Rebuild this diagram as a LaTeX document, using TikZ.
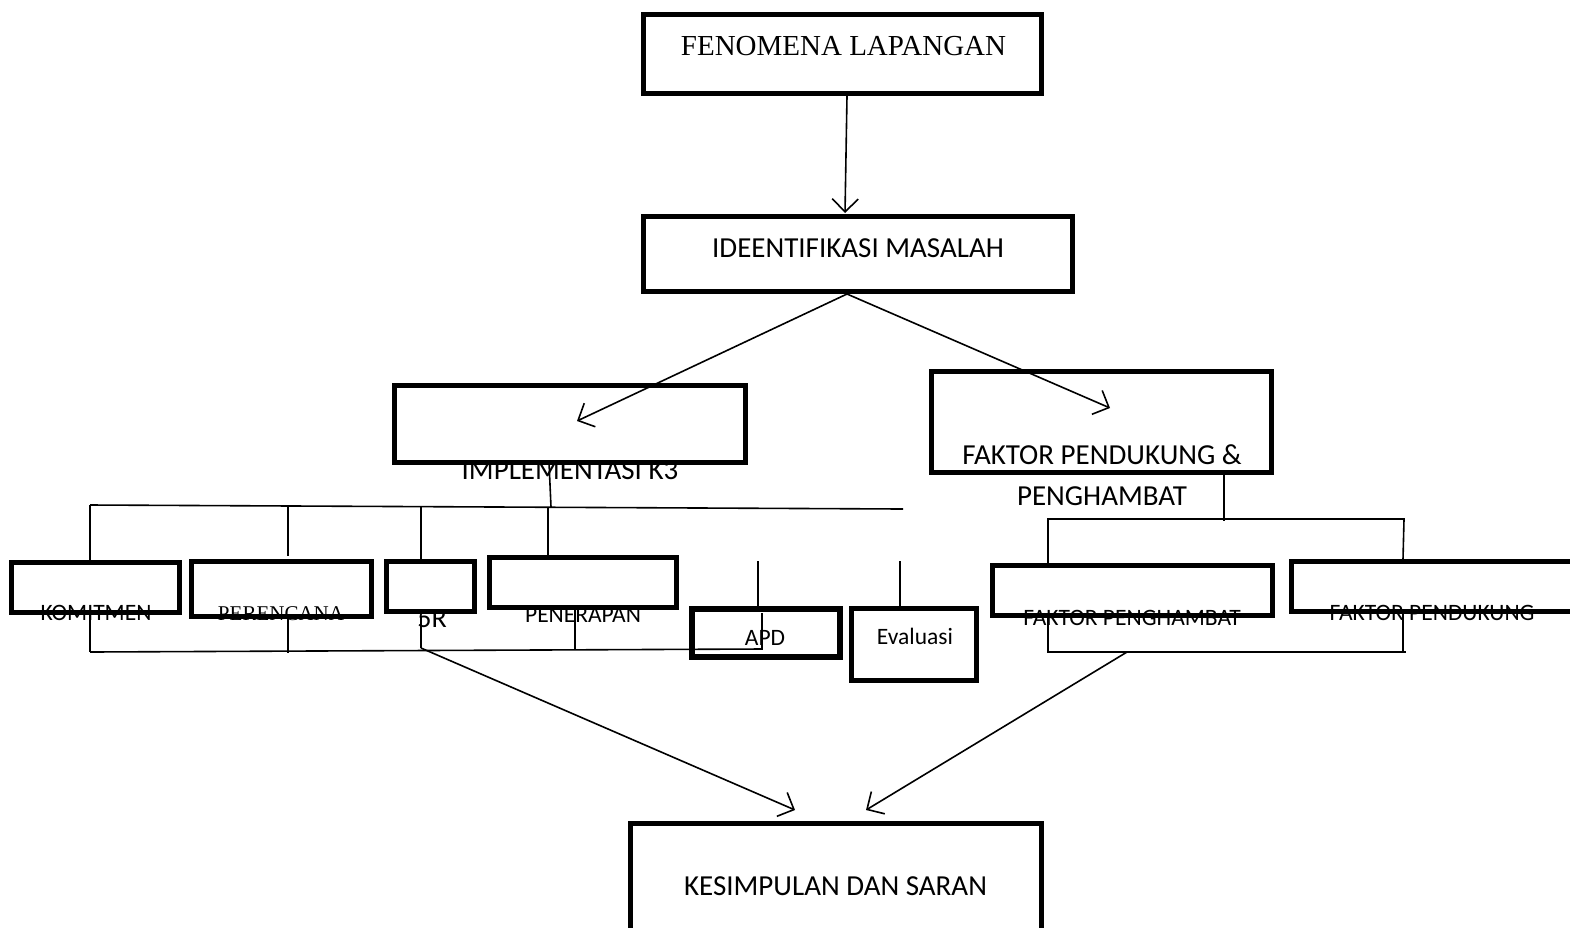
\documentclass[tikz,border=0pt]{standalone}
\usepackage{fontspec}
\setmainfont{Carlito}
\newfontfamily\serifface{Liberation Serif}
\usetikzlibrary{arrows.meta}
\begin{document}
\begin{tikzpicture}[x=1pt,y=-1pt,
  box/.style={draw, line width=5pt, inner sep=0pt, outer sep=0pt},
  wire/.style={line width=1.6pt},
  arr/.style={line width=1.6pt, -{Straight Barb[length=13pt,width=26pt,line width=1.6pt]}},
  big/.style={anchor=base, inner sep=0pt, font=\fontsize{29}{34}\selectfont},
  small/.style={anchor=base, inner sep=0pt, font=\fontsize{23.5}{28}\selectfont}]
\fill[white] (0,0) rectangle (1570,927);
\useasboundingbox (0,0) rectangle (1570,927);

% boxes
\node[box, minimum width=398pt, minimum height=79pt] (fen) at (842.5,54) {};
\node[box, minimum width=429pt, minimum height=75pt] (ide) at (858,254) {};
\node[box, minimum width=351pt, minimum height=77pt] (imp) at (570,424) {};
\node[box, minimum width=340pt, minimum height=101pt] (fpp) at (1101.5,422) {};
\node[box, minimum width=168pt, minimum height=50pt] (kom) at (95.5,587.5) {};
\node[box, minimum width=180pt, minimum height=55pt] (per) at (281.5,589) {};
\node[box, minimum width=88pt, minimum height=50pt] (r5) at (430.5,586.5) {};
\node[box, minimum width=187pt, minimum height=50pt] (pen) at (583,582.5) {};
\node[box, minimum width=148pt, minimum height=48pt, line width=6pt] (apd) at (765.5,632.5) {};
\node[box, minimum width=125pt, minimum height=72pt] (eva) at (914,644.5) {};
\node[box, minimum width=280pt, minimum height=50pt] (fph) at (1132.5,590.5) {};
\node[box, minimum width=281pt, minimum height=50pt] (fpd) at (1432,586.5) {};
\node[box, minimum width=411pt, minimum height=114pt] (kes) at (836,880.5) {};

% labels
\node[big, font=\serifface\fontsize{29}{34}\selectfont] (tfen) at (843.5,55) {FENOMENA LAPANGAN};
\node[big] (tide) at (858,257) {IDEENTIFIKASI MASALAH};
\node[big] (timp) at (570,479) {IMPLEMENTASI K3};
\node[big] (tfpp1) at (1102,464) {FAKTOR PENDUKUNG \&};
\node[big] (tfpp2) at (1102,505) {PENGHAMBAT};
\node[small] (tkom) at (96,620) {KOMITMEN};
\node[small, font=\serifface\fontsize{21}{26}\selectfont] (tper) at (281,620) {PERENCANA};
\node[small, font=\fontsize{28}{33}\selectfont] (tr5) at (432,627) {5R};
\node[small] (tpen) at (583,622) {PENERAPAN};
\node[small] (tapd) at (765,645) {APD};
\node[small] (teva) at (915,644) {Evaluasi};
\node[small] (tfph) at (1132,625) {FAKTOR PENGHAMBAT};
\node[small] (tfpd) at (1432,620) {FAKTOR PENDUKUNG};
\node[big] (tkes) at (835.5,895) {KESIMPULAN DAN SARAN};

% connector points
\coordinate (fenOut) at (847,96);
\coordinate (ideIn) at (845,213);
\coordinate (ideOut) at (847,294);
\coordinate (impTip) at (577,421);
\coordinate (fppTip) at (1110,408);
\coordinate (impDown) at (549,462);
\coordinate (topL) at (90,505);
\coordinate (topR) at (903,509);
\coordinate (topMid) at (551,507);
\coordinate (a1) at (90,505);   \coordinate (a2) at (90,560);
\coordinate (b1) at (288,506);  \coordinate (b2) at (288,556);
\coordinate (c1) at (421,507);  \coordinate (c2) at (421,559);
\coordinate (d1) at (548,507);  \coordinate (d2) at (548,555);
\coordinate (e1) at (758,561);  \coordinate (e2) at (758,606);
\coordinate (f1) at (900,561);  \coordinate (f2) at (900,606);
\coordinate (botL) at (90,652);
\coordinate (botR) at (762,649);
\coordinate (apdUp) at (762,613);
\coordinate (g1) at (90,615);   \coordinate (g2) at (90,652);
\coordinate (h1) at (288,619);  \coordinate (h2) at (288,653);
\coordinate (i1) at (421,617);  \coordinate (i2) at (421,648);
\coordinate (j1) at (575,610);  \coordinate (j2) at (575,650);
\coordinate (kesTipL) at (795,810);
\coordinate (fppDown) at (1224,521);
\coordinate (rTopL) at (1048,519);
\coordinate (rTopR) at (1404,519);
\coordinate (rL2) at (1048,563);
\coordinate (rR2) at (1403,559);
\coordinate (rBotL) at (1048,652);
\coordinate (rBotR) at (1406,652);
\coordinate (rR3) at (1403,652);
\coordinate (rMid) at (1127,652);
\coordinate (kesTipR) at (866,810);

% arrows
\draw[arr] (fenOut) -- (ideIn);
\draw[arr] (ideOut) -- (impTip);
\draw[arr] (ideOut) -- (fppTip);
\draw[arr] (i2) -- (kesTipL);
\draw[arr] (rMid) -- (kesTipR);

% left bracket, top
\draw[wire] (impDown) -- (topMid);
\draw[wire] (topL) -- (topR);
\draw[wire] (a1) -- (a2);
\draw[wire] (b1) -- (b2);
\draw[wire] (c1) -- (c2);
\draw[wire] (d1) -- (d2);
\draw[wire] (e1) -- (e2);
\draw[wire] (f1) -- (f2);

% left bracket, bottom
\draw[wire] (botL) -- (botR) -- (apdUp);
\draw[wire] (g1) -- (g2);
\draw[wire] (h1) -- (h2);
\draw[wire] (i1) -- (i2);
\draw[wire] (j1) -- (j2);

% right bracket
\draw[wire] (fpp.south -| fppDown) -- (fppDown);
\draw[wire] (rL2) -- (rTopL) -- (rTopR) -- (rR2);
\draw[wire] (fph.south -| rBotL) -- (rBotL) -- (rBotR);
\draw[wire] (fpd.south -| rR3) -- (rR3);
\end{tikzpicture}
\end{document}
